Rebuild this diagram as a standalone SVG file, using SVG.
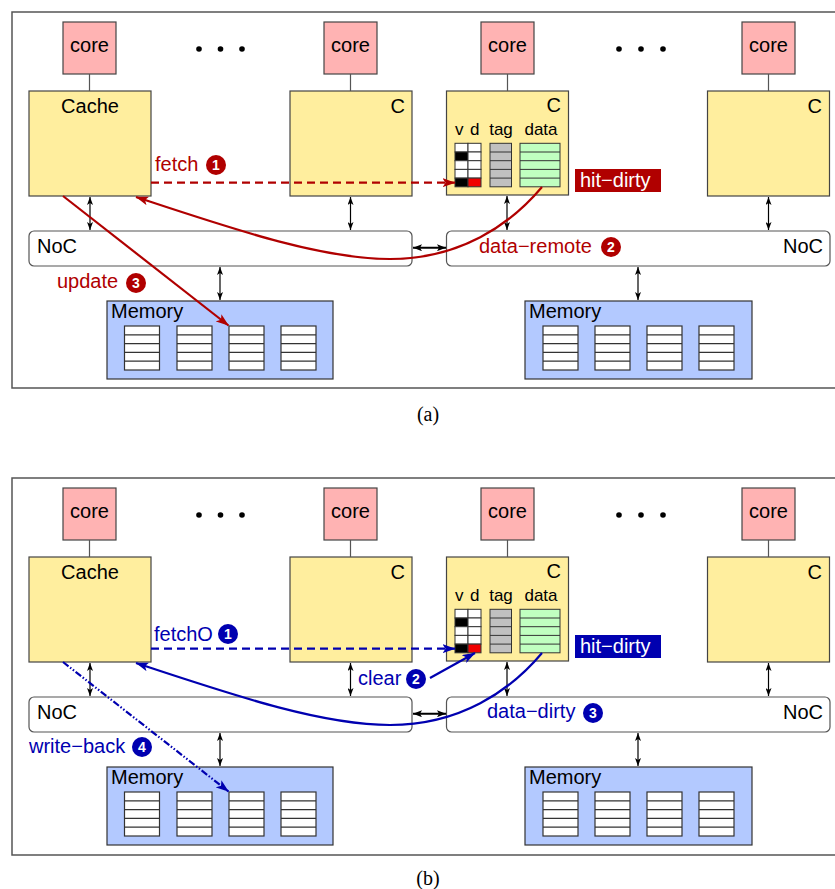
<svg xmlns="http://www.w3.org/2000/svg" width="835" height="889" viewBox="0 0 835 889">
<style>
text{font-family:"Liberation Sans",Arial,sans-serif;font-size:20px;fill:#000}
.frame{fill:none;stroke:#555;stroke-width:1.5}
.core{fill:#ffb3b3;stroke:#444;stroke-width:1.2}
.cache{fill:#ffee9e;stroke:#444;stroke-width:1.2}
.noc{fill:#fff;stroke:#555;stroke-width:1.2}
.mem{fill:#b3c9ff;stroke:#333;stroke-width:1.2}
.blk{fill:#fff;stroke:#333;stroke-width:1.2}
.wire{stroke:#555;stroke-width:1.2}
.bi{stroke:#000;stroke-width:1.2;marker-start:url(#ah);marker-end:url(#ah)}
.bi2{stroke:#000;stroke-width:2;marker-start:url(#ah2);marker-end:url(#ah2)}
.mid{text-anchor:middle}
.end{text-anchor:end}
.small{font-size:17px}
.rt{fill:#b00000}
.bt{fill:#0000b0}
.wt{fill:#fff}
.num{font-size:14px;font-weight:bold;fill:#fff;text-anchor:middle}
.rl{fill:none;stroke:#b00000;stroke-width:2.2}
.bl{fill:none;stroke:#0000b0;stroke-width:2.2}
.dash{stroke-dasharray:8 5}
.dd{stroke-dasharray:7 2 1.5 2 1.5 2}
.cap{font-family:"Liberation Serif","Times New Roman",serif;font-size:20px;text-anchor:middle}
.dot{fill:#000}
.g1{fill:#fff;stroke:#333;stroke-width:1}
.gb{fill:#000;stroke:#333;stroke-width:1}
.gr{fill:#f00000;stroke:#333;stroke-width:1}
.tg{fill:#c0c0c0;stroke:#333;stroke-width:1}
.dt{fill:#c0ffc0;stroke:#333;stroke-width:1}
</style>
<defs>
<marker id="ah" viewBox="0 0 8 6" refX="8" refY="3" markerWidth="8" markerHeight="6" markerUnits="userSpaceOnUse" orient="auto-start-reverse"><path d="M0,0 L8,3 L0,6 L2,3 z" fill="#000"/></marker>
<marker id="ah2" viewBox="0 0 9 7" refX="9" refY="3.5" markerWidth="9" markerHeight="7" markerUnits="userSpaceOnUse" orient="auto-start-reverse"><path d="M0,0 L9,3.5 L0,7 L2,3.5 z" fill="#000"/></marker>
<marker id="ar" viewBox="0 0 13 9" refX="12.5" refY="4.5" markerWidth="13" markerHeight="9" markerUnits="userSpaceOnUse" orient="auto"><path d="M0,0 L13,4.5 L0,9 L3,4.5 z" fill="#b00000"/></marker>
<marker id="ab" viewBox="0 0 13 9" refX="12.5" refY="4.5" markerWidth="13" markerHeight="9" markerUnits="userSpaceOnUse" orient="auto"><path d="M0,0 L13,4.5 L0,9 L3,4.5 z" fill="#0000b0"/></marker>
<g id="blk">
<rect class="blk" x="0" y="0" width="35" height="44"/>
<path d="M0,8.8H35M0,17.6H35M0,26.4H35M0,35.2H35" stroke="#333" stroke-width="1.2"/>
</g>
<g id="grid">
<rect class="g1" x="455" y="143.3" width="13" height="8.7"/><rect class="g1" x="468" y="143.3" width="13" height="8.7"/>
<rect class="gb" x="455" y="152" width="13" height="8.7"/><rect class="g1" x="468" y="152" width="13" height="8.7"/>
<rect class="g1" x="455" y="160.7" width="13" height="8.7"/><rect class="g1" x="468" y="160.7" width="13" height="8.7"/>
<rect class="g1" x="455" y="169.4" width="13" height="8.7"/><rect class="g1" x="468" y="169.4" width="13" height="8.7"/>
<rect class="gb" x="455" y="178.1" width="13" height="8.7"/><rect class="gr" x="468" y="178.1" width="13" height="8.7"/>
<rect class="tg" x="490" y="143.3" width="21.5" height="43.5"/>
<path d="M490,152H511.5M490,160.7H511.5M490,169.4H511.5M490,178.1H511.5" stroke="#333" stroke-width="1"/>
<rect class="dt" x="520" y="143.3" width="40" height="43.5"/>
<path d="M520,152H560M520,160.7H560M520,169.4H560M520,178.1H560" stroke="#333" stroke-width="1"/>
</g>
</defs>

<!-- ========== Panel (a) ========== -->
<g id="panel-a">
<rect class="frame" x="12" y="12" width="840" height="376"/>
<g id="a-dots"><circle class="dot" cx="199" cy="49" r="2.8"/><circle class="dot" cx="220.5" cy="49" r="2.8"/><circle class="dot" cx="242" cy="49" r="2.8"/><circle class="dot" cx="619" cy="49" r="2.8"/><circle class="dot" cx="641" cy="49" r="2.8"/><circle class="dot" cx="663" cy="49" r="2.8"/></g>
<g id="a-core1"><rect class="core" x="63" y="22" width="53" height="52"/><text class="mid" x="89.5" y="52">core</text></g>
<g id="a-core2"><rect class="core" x="324" y="22" width="53" height="52"/><text class="mid" x="350.5" y="52">core</text></g>
<g id="a-core3"><rect class="core" x="481" y="22" width="53" height="52"/><text class="mid" x="507.5" y="52">core</text></g>
<g id="a-core4"><rect class="core" x="742" y="22" width="53" height="52"/><text class="mid" x="768.5" y="52">core</text></g>
<g id="a-cache1"><rect class="cache" x="29" y="91" width="122" height="105"/><text class="mid" x="90" y="113">Cache</text></g>
<g id="a-cache2"><rect class="cache" x="290" y="91" width="122" height="105"/><text class="end" x="405" y="113">C</text></g>
<g id="a-cache3"><rect class="cache" x="446.5" y="91" width="122" height="104"/><text class="end" x="561" y="112">C</text>
<text class="small" x="455" y="135">v</text><text class="small" x="470" y="135">d</text><text class="small mid" x="501" y="135">tag</text><text class="small mid" x="541" y="135">data</text>
<use href="#grid"/></g>
<g id="a-cache4"><rect class="cache" x="707.5" y="91" width="122" height="105"/><text class="end" x="822" y="113">C</text></g>
<g id="a-noc1"><rect class="noc" x="29" y="231" width="383" height="35" rx="5"/><text x="37" y="253">NoC</text></g>
<g id="a-noc2"><rect class="noc" x="446.5" y="231" width="383.5" height="35" rx="5"/><text class="end" x="823" y="253">NoC</text></g>
<g id="a-mem1"><rect class="mem" x="107" y="301" width="226" height="78"/><text x="111" y="318">Memory</text>
<use href="#blk" x="124.5" y="326"/><use href="#blk" x="177" y="326"/><use href="#blk" x="229" y="326"/><use href="#blk" x="281" y="326"/></g>
<g id="a-mem2"><rect class="mem" x="525" y="301" width="227" height="78"/><text x="529" y="318">Memory</text>
<use href="#blk" x="543" y="326"/><use href="#blk" x="595" y="326"/><use href="#blk" x="647" y="326"/><use href="#blk" x="699" y="326"/></g>
<g id="a-label-hit"><rect x="575" y="169" width="86" height="23" fill="#b00000"/><text class="wt" x="580" y="187">hit−dirty</text></g>

<g id="a-connectors">
<path class="wire" d="M89.5,74V91M350.5,74V91M507.5,74V91M768.5,74V91"/>
<path class="bi" d="M90,197V230"/>
<path class="bi" d="M350.5,197V230"/>
<path class="bi" d="M507,196V230"/>
<path class="bi" d="M768.5,197V230"/>
<path class="bi" d="M220,267V300"/>
<path class="bi" d="M638,267V300"/>
<path class="bi2" d="M413,247.7H446"/>
<path class="rl dash" d="M151,182.7H455" marker-end="url(#ar)"/>
<path class="rl" d="M542,187 C510,225 460,259 390,259 C320,259 230,228 136,197" marker-end="url(#ar)"/>
<path class="rl" d="M63,196 L228.5,325.5" marker-end="url(#ar)"/>
<text class="rt" x="155" y="171">fetch</text><circle cx="216" cy="165" r="10" fill="#b00000"/><text class="num" x="216" y="170">1</text>
<text class="rt" x="479" y="253">data−remote</text><circle cx="611" cy="247" r="10" fill="#b00000"/><text class="num" x="611" y="252">2</text>
<text class="rt" x="57" y="288">update</text><circle cx="136" cy="283" r="10" fill="#b00000"/><text class="num" x="136" y="288">3</text>
</g>
</g>
<text class="cap" x="428" y="421">(a)</text>

<!-- ========== Panel (b) ========== -->
<g id="panel-b" transform="translate(0,466)">
<rect class="frame" x="12" y="12" width="840" height="377"/>
<g id="b-dots"><circle class="dot" cx="199" cy="49" r="2.8"/><circle class="dot" cx="220.5" cy="49" r="2.8"/><circle class="dot" cx="242" cy="49" r="2.8"/><circle class="dot" cx="619" cy="49" r="2.8"/><circle class="dot" cx="641" cy="49" r="2.8"/><circle class="dot" cx="663" cy="49" r="2.8"/></g>
<g id="b-core1"><rect class="core" x="63" y="22" width="53" height="52"/><text class="mid" x="89.5" y="52">core</text></g>
<g id="b-core2"><rect class="core" x="324" y="22" width="53" height="52"/><text class="mid" x="350.5" y="52">core</text></g>
<g id="b-core3"><rect class="core" x="481" y="22" width="53" height="52"/><text class="mid" x="507.5" y="52">core</text></g>
<g id="b-core4"><rect class="core" x="742" y="22" width="53" height="52"/><text class="mid" x="768.5" y="52">core</text></g>
<g id="b-cache1"><rect class="cache" x="29" y="91" width="122" height="105"/><text class="mid" x="90" y="113">Cache</text></g>
<g id="b-cache2"><rect class="cache" x="290" y="91" width="122" height="105"/><text class="end" x="405" y="113">C</text></g>
<g id="b-cache3"><rect class="cache" x="446.5" y="91" width="122" height="104"/><text class="end" x="561" y="112">C</text>
<text class="small" x="455" y="135">v</text><text class="small" x="470" y="135">d</text><text class="small mid" x="501" y="135">tag</text><text class="small mid" x="541" y="135">data</text>
<use href="#grid"/></g>
<g id="b-cache4"><rect class="cache" x="707.5" y="91" width="122" height="105"/><text class="end" x="822" y="113">C</text></g>
<g id="b-noc1"><rect class="noc" x="29" y="231" width="383" height="35" rx="5"/><text x="37" y="253">NoC</text></g>
<g id="b-noc2"><rect class="noc" x="446.5" y="231" width="383.5" height="35" rx="5"/><text class="end" x="823" y="253">NoC</text></g>
<g id="b-mem1"><rect class="mem" x="107" y="301" width="226" height="78"/><text x="111" y="318">Memory</text>
<use href="#blk" x="124.5" y="326"/><use href="#blk" x="177" y="326"/><use href="#blk" x="229" y="326"/><use href="#blk" x="281" y="326"/></g>
<g id="b-mem2"><rect class="mem" x="525" y="301" width="227" height="78"/><text x="529" y="318">Memory</text>
<use href="#blk" x="543" y="326"/><use href="#blk" x="595" y="326"/><use href="#blk" x="647" y="326"/><use href="#blk" x="699" y="326"/></g>
<g id="b-label-hit"><rect x="575" y="169" width="86" height="23" fill="#0000b0"/><text class="wt" x="580" y="187">hit−dirty</text></g>

<g id="b-connectors">
<path class="wire" d="M89.5,74V91M350.5,74V91M507.5,74V91M768.5,74V91"/>
<path class="bi" d="M90,197V230"/>
<path class="bi" d="M350.5,197V230"/>
<path class="bi" d="M507,196V230"/>
<path class="bi" d="M768.5,197V230"/>
<path class="bi" d="M220,267V300"/>
<path class="bi" d="M638,267V300"/>
<path class="bi2" d="M413,247.7H446"/>
<path class="bl dash" d="M151,182.7H455" marker-end="url(#ab)"/>
<path class="bl" d="M430,212 L475,187" marker-end="url(#ab)"/>
<path class="bl" d="M542,187 C510,225 460,259 390,259 C320,259 230,228 136,197" marker-end="url(#ab)"/>
<path class="bl dd" d="M63,196 L228.5,325.5" marker-end="url(#ab)"/>
<text class="bt" x="154" y="175">fetchO</text><circle cx="228" cy="168" r="10" fill="#0000b0"/><text class="num" x="228" y="173">1</text>
<text class="bt" x="358" y="219">clear</text><circle cx="416" cy="213" r="10" fill="#0000b0"/><text class="num" x="416" y="218">2</text>
<text class="bt" x="487" y="252">data−dirty</text><circle cx="593" cy="247" r="10" fill="#0000b0"/><text class="num" x="593" y="252">3</text>
<text class="bt" x="29" y="287">write−back</text><circle cx="142" cy="281" r="10" fill="#0000b0"/><text class="num" x="142" y="286">4</text>
</g>
</g>
<text class="cap" x="428" y="885">(b)</text>
</svg>
